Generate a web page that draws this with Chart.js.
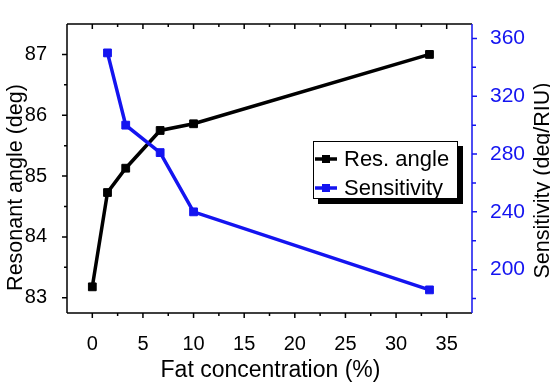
<!DOCTYPE html>
<html>
<head>
<meta charset="utf-8">
<script src="https://cdn.jsdelivr.net/npm/chart.js@4"></script>
<style>
html, body { margin: 0; padding: 0; background: #fff; }
</style>
</head>
<body>
<canvas id="chart" width="550" height="388"></canvas>
<script>
const fatConc = [0, 1.5, 3.3, 6.7, 10, 33.3];
const resAngle = [83.18, 84.73, 85.13, 85.75, 85.86, 87.0];
const sensConc = [1.5, 3.3, 6.7, 10, 33.3];
const sensitivity = [350, 300, 281, 240, 186];
const xTicks = [0, 5, 10, 15, 20, 25, 30, 35];
const angleTicks = [83, 84, 85, 86, 87];
const sensTicks = [200, 240, 280, 320, 360];
const seriesLabels = ['Res. angle', 'Sensitivity'];
const xTitle = 'Fat concentration (%)';
const angleTitle = 'Resonant angle (deg)';
const sensTitle = 'Sensitivity (deg/RIU)';

const black = '#000000';
const blue = '#1414f0';
const fontFamily = '"Liberation Sans", Arial, sans-serif';

// major ticks from the list, minor ones half a step off
function tickMarks(scale, majors) {
	const step = majors[1] - majors[0];
	const out = majors.map(v => ({ v, major: true }));
	const cands = majors.map(v => v - step / 2).concat([majors[majors.length - 1] + step / 2]);
	for (const m of cands) {
		if (m > scale.min + 1e-6 && m < scale.max - 1e-6) out.push({ v: m, major: false });
	}
	return out;
}

const frame = {
	id: 'frame',
	afterDatasetsDraw(chart) {
		const { ctx, chartArea: { top, bottom, left, right }, scales } = chart;
		ctx.save();
		ctx.lineWidth = 1.5;
		ctx.lineCap = 'butt';

		// black frame: left, bottom, top
		ctx.strokeStyle = black;
		ctx.beginPath();
		ctx.moveTo(left, top);
		ctx.lineTo(left, bottom);
		ctx.moveTo(left, bottom);
		ctx.lineTo(right, bottom);
		ctx.moveTo(left, top);
		ctx.lineTo(right, top);
		ctx.stroke();

		// x ticks, outward on the bottom and inward on the top
		ctx.beginPath();
		tickMarks(scales.x, xTicks).forEach(t => {
			const px = scales.x.getPixelForValue(t.v);
			const len = t.major ? 5 : 3;
			ctx.moveTo(px, bottom);
			ctx.lineTo(px, bottom + len);
			ctx.moveTo(px, top);
			ctx.lineTo(px, top + len);
		});
		tickMarks(scales.y, angleTicks).forEach(t => {
			const py = scales.y.getPixelForValue(t.v);
			const len = t.major ? 5 : 3;
			ctx.moveTo(left, py);
			ctx.lineTo(left - len, py);
		});
		ctx.stroke();

		// blue right axis
		ctx.strokeStyle = blue;
		ctx.beginPath();
		ctx.moveTo(right, top);
		ctx.lineTo(right, bottom);
		tickMarks(scales.y1, sensTicks).forEach(t => {
			const py = scales.y1.getPixelForValue(t.v);
			const len = t.major ? 5 : 4;
			ctx.moveTo(right, py);
			ctx.lineTo(right + len, py);
		});
		ctx.stroke();

		// axis titles
		ctx.fillStyle = black;
		ctx.font = '23px ' + fontFamily;
		ctx.textAlign = 'center';
		ctx.textBaseline = 'alphabetic';
		ctx.fillText(xTitle, (left + right) / 2 + 1, bottom + 64);

		ctx.font = '21.5px ' + fontFamily;
		ctx.save();
		ctx.translate(22, (top + bottom) / 2 + 19);
		ctx.rotate(-Math.PI / 2);
		ctx.fillText(angleTitle, 0, 0);
		ctx.restore();

		ctx.save();
		ctx.translate(549, (top + bottom) / 2 + 12);
		ctx.rotate(-Math.PI / 2);
		ctx.fillText(sensTitle, 0, 0);
		ctx.restore();

		// legend box with drop shadow
		const bx = right - 159, by = top + 117, bw = 145, bh = 58;
		ctx.fillStyle = black;
		ctx.fillRect(bx + 5, by + 5, bw, bh);
		ctx.fillStyle = '#fff';
		ctx.fillRect(bx, by, bw, bh);
		ctx.strokeStyle = black;
		ctx.lineWidth = 1;
		ctx.strokeRect(bx + 0.5, by + 0.5, bw - 1, bh - 1);

		const rows = [
			{ label: seriesLabels[0], color: black, y: by + 18 },
			{ label: seriesLabels[1], color: blue, y: by + 47 }
		];
		ctx.font = '22px ' + fontFamily;
		ctx.textAlign = 'left';
		ctx.textBaseline = 'middle';
		rows.forEach(r => {
			ctx.strokeStyle = r.color;
			ctx.fillStyle = r.color;
			ctx.lineWidth = 3.5;
			ctx.beginPath();
			ctx.moveTo(bx + 2, r.y);
			ctx.lineTo(bx + 24, r.y);
			ctx.stroke();
			ctx.fillRect(bx + 9, r.y - 4, 8, 8);
			ctx.fillStyle = black;
			ctx.fillText(r.label, bx + 31, r.y + 1);
		});
		ctx.restore();
	}
};

const tickFont = { family: fontFamily, size: 20 };

new Chart(document.getElementById('chart'), {
	type: 'line',
	data: {
		datasets: [{
			label: seriesLabels[0],
			data: fatConc.map((x, i) => ({ x: x, y: resAngle[i] })),
			yAxisID: 'y',
			borderColor: black,
			backgroundColor: black,
			borderWidth: 3.5,
			pointStyle: 'rect',
			pointRadius: 5.5,
			pointBorderWidth: 1,
			order: 1
		}, {
			label: seriesLabels[1],
			data: sensConc.map((x, i) => ({ x: x, y: sensitivity[i] })),
			yAxisID: 'y1',
			borderColor: blue,
			backgroundColor: blue,
			borderWidth: 3.5,
			pointStyle: 'rect',
			pointRadius: 5.5,
			pointBorderWidth: 1,
			order: 0
		}]
	},
	options: {
		responsive: false,
		devicePixelRatio: 1,
		animation: false,
		layout: { padding: { top: 8, left: 0, right: 0, bottom: 0 } },
		plugins: {
			legend: { display: false },
			tooltip: { enabled: false }
		},
		scales: {
			x: {
				type: 'linear',
				min: -2.5,
				max: 37.5,
				grid: { display: false },
				border: { display: false },
				ticks: { font: tickFont, color: black, padding: 11, maxRotation: 0 },
				afterBuildTicks: s => { s.ticks = xTicks.map(v => ({ value: v })); },
				afterFit: s => { s.height = 75; }
			},
			y: {
				position: 'left',
				min: 82.75,
				max: 87.5,
				grid: { display: false },
				border: { display: false },
				ticks: { font: tickFont, color: black, padding: 12 },
				afterBuildTicks: s => { s.ticks = angleTicks.map(v => ({ value: v })); },
				afterFit: s => { s.width = 67; }
			},
			y1: {
				position: 'right',
				min: 170,
				max: 370,
				grid: { display: false },
				border: { display: false },
				ticks: { font: { family: fontFamily, size: 21 }, color: blue, padding: 10 },
				afterBuildTicks: s => { s.ticks = sensTicks.map(v => ({ value: v })); },
				afterFit: s => { s.width = 78; }
			}
		}
	},
	plugins: [frame]
});
</script>
</body>
</html>
